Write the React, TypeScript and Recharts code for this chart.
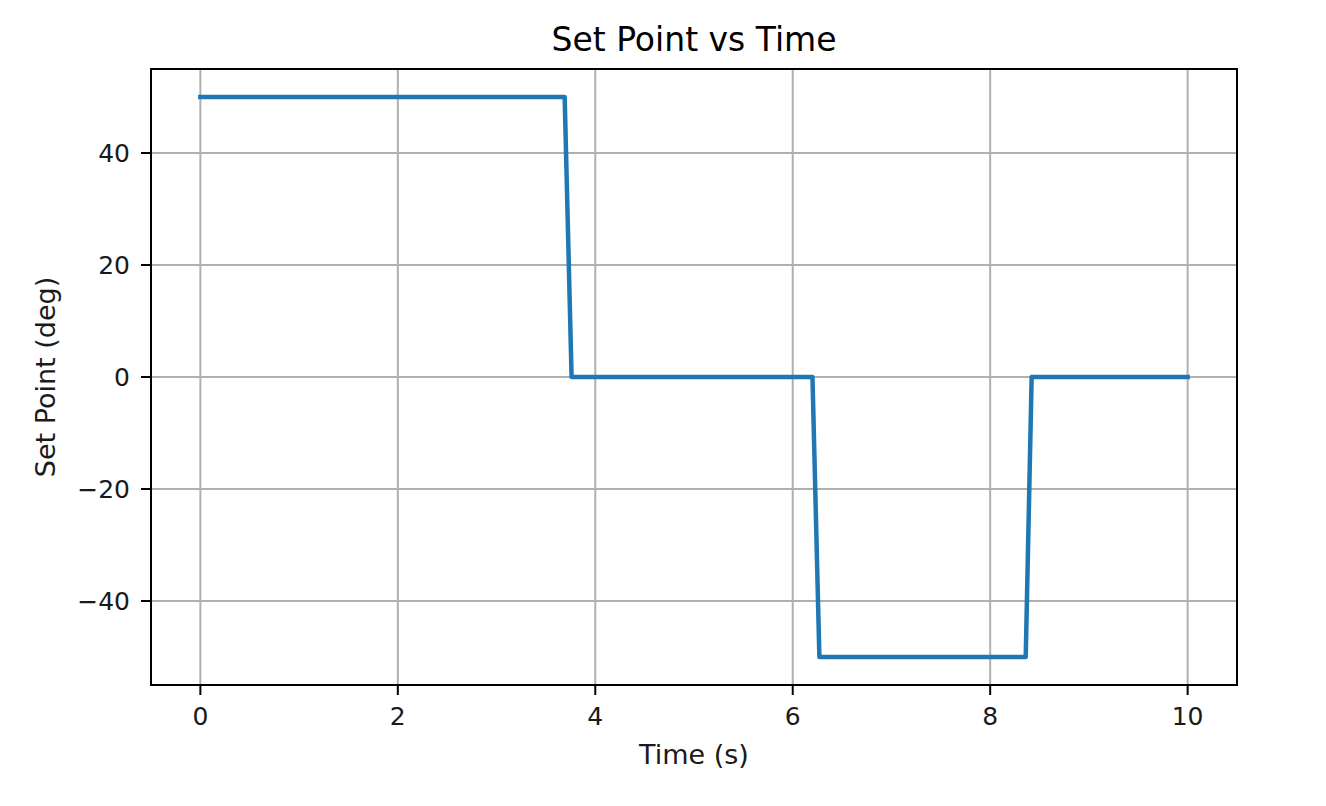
import {
  CartesianGrid,
  Label,
  Line,
  LineChart,
  ReferenceArea,
  XAxis,
  YAxis,
} from 'recharts';

// set point trajectory
const timeS = [0, 3.69, 3.76, 6.2, 6.27, 8.36, 8.42, 10];
const setPointDeg = [50, 50, 0, 0, -50, -50, 0, 0];

const xTicks = [0, 2, 4, 6, 8, 10];
const yTicks = [-40, -20, 0, 20, 40];

const data = timeS.map((t, i) => ({ t, sp: setPointDeg[i] }));

const FONT = '"DejaVu Sans", sans-serif';
const minus = (v: number) => String(v).replace('-', '\u2212');

export default function App() {
  return (
    <div style={{ position: 'absolute', left: 0, top: 0, width: 1326, height: 806, fontFamily: FONT, background: '#fff' }}>
      <div
        style={{
          position: 'absolute',
          left: 151,
          width: 1086,
          top: 23,
          textAlign: 'center',
          fontSize: 33,
          lineHeight: '33px',
          color: '#000',
        }}
      >
        Set Point vs Time
      </div>
      <LineChart
        width={1326}
        height={806}
        data={data}
        margin={{ top: 69, right: 89, left: 41, bottom: 41 }}
        style={{ fontFamily: FONT }}
      >
        <CartesianGrid stroke="#b0b0b0" strokeWidth={2} />
        <XAxis
          dataKey="t"
          type="number"
          domain={[-0.5, 10.5]}
          ticks={xTicks}
          height={80}
          axisLine={false}
          tickLine={{ stroke: '#000', strokeWidth: 2 }}
          tickSize={10}
          tickMargin={12}
          tick={{ fill: '#1a1a1a', fontSize: 25 }}
          tickFormatter={minus}
        >
          <Label value="Time (s)" position="insideBottom" offset={1} style={{ fill: '#1a1a1a', fontSize: 27 }} />
        </XAxis>
        <YAxis
          type="number"
          domain={[-55, 55]}
          ticks={yTicks}
          width={110}
          axisLine={false}
          tickLine={{ stroke: '#000', strokeWidth: 2 }}
          tickSize={10}
          tickMargin={11}
          tick={{ fill: '#1a1a1a', fontSize: 25 }}
          tickFormatter={minus}
        >
          <Label
            value="Set Point (deg)"
            angle={-90}
            position="insideLeft"
            offset={4}
            style={{ fill: '#1a1a1a', fontSize: 27, textAnchor: 'middle' }}
          />
        </YAxis>
        <ReferenceArea
          x1={-0.5}
          x2={10.5}
          y1={-55}
          y2={55}
          fill="none"
          stroke="#000"
          strokeWidth={2}
          ifOverflow="visible"
        />
        <Line
          type="linear"
          dataKey="sp"
          stroke="#1f77b4"
          strokeWidth={4.5}
          strokeLinejoin="round"
          strokeLinecap="square"
          dot={false}
          activeDot={false}
          isAnimationActive={false}
        />
      </LineChart>
    </div>
  );
}
